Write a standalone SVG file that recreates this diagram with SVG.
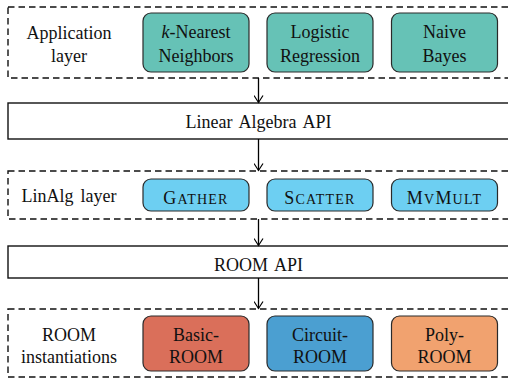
<svg xmlns="http://www.w3.org/2000/svg" width="508" height="379" viewBox="0 0 508 379">
<defs>
<marker id="arr" markerWidth="10" markerHeight="10" refX="8" refY="5" orient="auto" markerUnits="userSpaceOnUse">
<path d="M1,0.5 L8,5 L1,9.5" fill="none" stroke="#000" stroke-width="1.2"/>
</marker>
</defs>
<style>
text{font-family:"Liberation Serif","Times New Roman",serif;font-size:18px;fill:#111;text-anchor:middle;word-spacing:2.5px}
.dash{fill:none;stroke:#111;stroke-width:1.4;stroke-dasharray:6.5,4}
.api{fill:#fff;stroke:#111;stroke-width:1.4}
.node{stroke:#2a2a2a;stroke-width:1.2}
.teal{fill:#66c2b6}
.sky{fill:#6dcff2}
.red{fill:#da6f5a}
.blue{fill:#4b9fd1}
.orange{fill:#f1a26f}
.sc{letter-spacing:1.2px}
.sm{font-size:14px}
.conn{stroke:#000;stroke-width:1.3;fill:none;marker-end:url(#arr)}
</style>
<g id="app-layer">
<rect class="dash" x="8" y="7" width="510" height="71"/>
<text x="69" y="39">Application</text>
<text x="69" y="62">layer</text>
</g>
<g id="knn">
<rect class="node teal" x="143" y="13" width="106" height="59" rx="8"/>
<text x="196" y="38"><tspan font-style="italic">k</tspan>-Nearest</text>
<text x="196" y="62">Neighbors</text>
</g>
<g id="logreg">
<rect class="node teal" x="267" y="13" width="106" height="59" rx="8"/>
<text x="320" y="38">Logistic</text>
<text x="320" y="62">Regression</text>
</g>
<g id="bayes">
<rect class="node teal" x="391.5" y="13" width="106" height="59" rx="8"/>
<text x="444.5" y="38">Naive</text>
<text x="444.5" y="62">Bayes</text>
</g>
<g id="linalg-api">
<rect class="api" x="8" y="103" width="510" height="36"/>
<text x="258.5" y="128">Linear Algebra API</text>
</g>
<g id="linalg-layer">
<rect class="dash" x="8" y="171" width="510" height="48"/>
<text x="69" y="202">LinAlg layer</text>
</g>
<g id="gather">
<rect class="node sky" x="143" y="179" width="106" height="32" rx="8"/>
<text class="sc" x="196" y="204">G<tspan class="sm">ATHER</tspan></text>
</g>
<g id="scatter">
<rect class="node sky" x="267" y="179" width="106" height="32" rx="8"/>
<text class="sc" x="320" y="204">S<tspan class="sm">CATTER</tspan></text>
</g>
<g id="mvmult">
<rect class="node sky" x="391.5" y="179" width="106" height="32" rx="8"/>
<text class="sc" x="444.5" y="204">M<tspan class="sm">V</tspan>M<tspan class="sm">ULT</tspan></text>
</g>
<g id="room-api">
<rect class="api" x="8" y="246" width="510" height="32"/>
<text x="258.5" y="271">ROOM API</text>
</g>
<g id="room-inst">
<rect class="dash" x="8" y="309" width="510" height="68"/>
<text x="69" y="341">ROOM</text>
<text x="69" y="363">instantiations</text>
</g>
<g id="basic-room">
<rect class="node red" x="143" y="316" width="106" height="55" rx="8"/>
<text x="196" y="341">Basic-</text>
<text x="196" y="363">ROOM</text>
</g>
<g id="circuit-room">
<rect class="node blue" x="267" y="316" width="106" height="55" rx="8"/>
<text x="320" y="341">Circuit-</text>
<text x="320" y="363">ROOM</text>
</g>
<g id="poly-room">
<rect class="node orange" x="391.5" y="316" width="106" height="55" rx="8"/>
<text x="444.5" y="341">Poly-</text>
<text x="444.5" y="363">ROOM</text>
</g>
<g id="connectors">
<line class="conn" x1="258.5" y1="78" x2="258.5" y2="102.5"/>
<line class="conn" x1="258.5" y1="139" x2="258.5" y2="170.5"/>
<line class="conn" x1="258.5" y1="219" x2="258.5" y2="245.5"/>
<line class="conn" x1="258.5" y1="278" x2="258.5" y2="308.5"/>
</g>
</svg>
